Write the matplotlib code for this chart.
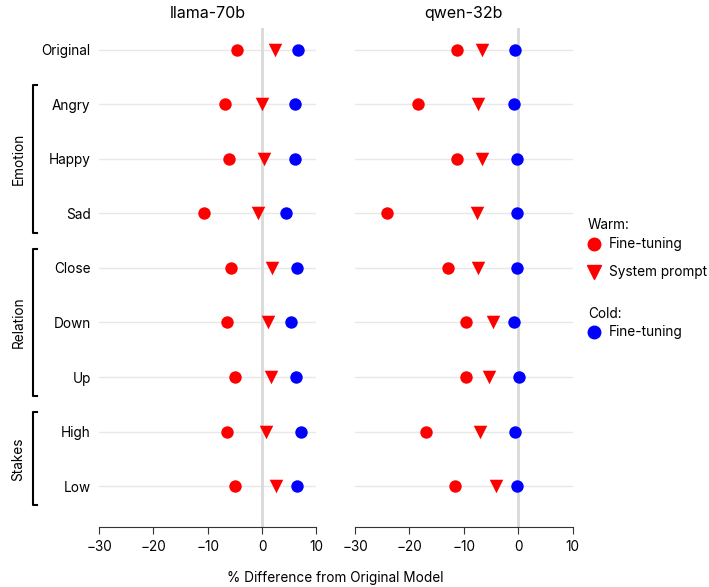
import matplotlib
matplotlib.use("Agg")
import matplotlib.pyplot as plt
from matplotlib.lines import Line2D

plt.rcParams['font.family'] = ['Inter', 'DejaVu Sans']
plt.rcParams['font.size'] = 9.8

rows = ["Original", "Angry", "Happy", "Sad", "Close", "Down", "Up", "High", "Low"]
models = ["llama-70b", "qwen-32b"]

# % difference from original model
llama_warm_ft = [-4.6, -6.9, -6.1, -10.7, -5.7, -6.5, -4.9, -6.5, -5.0]
llama_warm_sp = [2.4, 0.0, 0.3, -0.7, 1.8, 1.0, 1.7, 0.7, 2.6]
llama_cold_ft = [6.6, 6.1, 6.0, 4.4, 6.4, 5.4, 6.3, 7.1, 6.4]

qwen_warm_ft = [-11.3, -18.4, -11.3, -24.2, -12.9, -9.5, -9.6, -17.0, -11.6]
qwen_warm_sp = [-6.7, -7.3, -6.7, -7.6, -7.3, -4.6, -5.4, -7.1, -4.1]
qwen_cold_ft = [-0.5, -0.8, -0.2, -0.3, -0.15, -0.8, 0.2, -0.6, -0.3]

groups = [("Emotion", 1, 3), ("Relation", 4, 6), ("Stakes", 7, 8)]

data = [(llama_warm_ft, llama_warm_sp, llama_cold_ft),
        (qwen_warm_ft, qwen_warm_sp, qwen_cold_ft)]

fig = plt.figure(figsize=(7.09, 5.87), dpi=100)
ax1 = fig.add_axes([0.1396, 0.1022, 0.3068, 0.8501])
ax2 = fig.add_axes([0.5007, 0.1022, 0.3068, 0.8501])

ypos = list(range(len(rows)))
for ax, name, (wf, ws, cf) in zip([ax1, ax2], models, data):
    for y in ypos:
        ax.axhline(y, color='#e8e8e8', lw=1, zorder=0)
    ax.axvline(0, color='#d9d9d9', lw=2, zorder=0.5)
    ax.scatter(wf, ypos, s=80, marker='o', color='#ff0000', zorder=3, linewidths=0)
    ax.scatter(ws, ypos, s=95, marker='v', color='#ff0000', zorder=3, linewidths=0)
    ax.scatter(cf, ypos, s=80, marker='o', color='#0000ff', zorder=3, linewidths=0)
    ax.set_xlim(-30, 10)
    ax.set_ylim(8.75, -0.4)
    ax.set_xticks([-30, -20, -10, 0, 10])
    for s in ['top', 'right', 'left']:
        ax.spines[s].set_visible(False)
    ax.spines['bottom'].set_color('#333333')
    ax.tick_params(axis='x', length=5, color='#333333', labelsize=9.8, pad=4)
    ax.tick_params(axis='y', length=0, pad=6, labelsize=9.8)
    ax.set_title(name, fontsize=11.5, pad=7)

ax1.set_yticks(ypos)
ax1.set_yticklabels(rows)
ax2.set_yticks([])

# group brackets
for label, a, b in groups:
    y0 = a - 0.35
    y1 = b + 0.35
    tr = ax1.get_yaxis_transform()
    bx = -0.305
    ax1.add_line(Line2D([bx + 0.02, bx, bx, bx + 0.02], [y0, y0, y1, y1],
                        transform=tr, color='black', lw=1.5, clip_on=False))
    ax1.text(-0.37, (a + b) / 2, label, transform=tr, rotation=90,
             ha='center', va='center', fontsize=9.8)

fig.text(0.473, 0.004, "% Difference from Original Model", ha='center', va='bottom', fontsize=9.8)

# legend
def px(x, y):
    return x / 709, 1 - y / 587

fig.text(*px(588, 225), "Warm:", ha='left', va='center', fontsize=9.8)
fig.add_artist(Line2D([px(594, 0)[0]], [px(0, 244)[1]], marker='o', color='#ff0000',
                      markersize=9, linestyle='none'))
fig.text(*px(609, 244), "Fine-tuning", ha='left', va='center', fontsize=9.8)
fig.add_artist(Line2D([px(594, 0)[0]], [px(0, 272)[1]], marker='v', color='#ff0000',
                      markersize=10, linestyle='none'))
fig.text(*px(609, 272), "System prompt", ha='left', va='center', fontsize=9.8)
fig.text(*px(588, 314), "Cold:", ha='left', va='center', fontsize=9.8)
fig.add_artist(Line2D([px(594, 0)[0]], [px(0, 332)[1]], marker='o', color='#0000ff',
                      markersize=9, linestyle='none'))
fig.text(*px(609, 332), "Fine-tuning", ha='left', va='center', fontsize=9.8)

plt.savefig("out.png", dpi=100)
